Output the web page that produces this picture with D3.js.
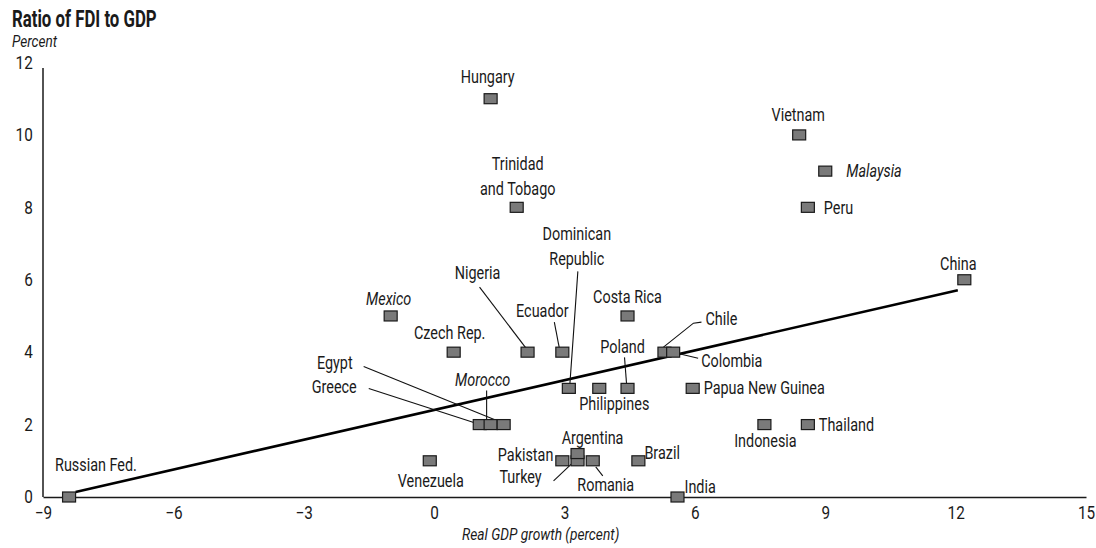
<!DOCTYPE html>
<html>
<head>
<meta charset="utf-8">
<script src="https://cdn.jsdelivr.net/npm/d3@7"></script>
<style>
  html, body { margin: 0; padding: 0; background: #fff; }
  svg { display: block; }
  text { font-family: Roboto, "Liberation Sans", sans-serif; fill: #1a1a1a; }
</style>
</head>
<body>
<svg id="chart" width="1096" height="548"></svg>
<script>
// ---------- data ----------
const countries = ["Russian Fed.", "Venezuela", "Hungary", "Trinidad\nand Tobago", "Vietnam", "Malaysia", "Peru", "China",
  "Mexico", "Czech Rep.", "Nigeria", "Ecuador", "Dominican\nRepublic", "Costa Rica", "Chile", "Colombia", "Poland",
  "Philippines", "Papua New Guinea", "Indonesia", "Thailand", "Greece", "Morocco", "Egypt", "Pakistan", "Turkey",
  "Argentina", "Romania", "Brazil", "India"];
const gdpGrowth = [-8.4, -0.1, 1.3, 1.9, 8.4, 9.0, 8.6, 12.2,
  -1.0, 0.45, 2.15, 2.95, 3.1, 4.45, 5.3, 5.5, 4.45,
  3.8, 5.95, 7.6, 8.6, 1.05, 1.3, 1.6, 2.95, 3.3,
  3.3, 3.65, 4.7, 5.6];
const fdiRatio = [0, 1, 11, 8, 10, 9, 8, 6,
  5, 4, 4, 4, 3, 5, 4, 4, 3,
  3, 3, 2, 2, 2, 2, 2, 1, 1,
  1.2, 1, 1, 0];
const fitX = [-8.25, 12.05];
const fitY = [0.14, 5.71];
const xTicks = [-9, -6, -3, 0, 3, 6, 9, 12, 15];
const yTicks = [0, 2, 4, 6, 8, 10, 12];
const titleText = "Ratio of FDI to GDP";
const yUnitText = "Percent";
const xTitleText = "Real GDP growth (percent)";

// ---------- label layout (pixel offsets from each marker) ----------
const labelLayout = {
  "Russian Fed.": {a: "start", dx: -14, dy: -26},
  "Venezuela": {a: "middle", dx: 1, dy: 26},
  "Hungary": {a: "middle", dx: -3, dy: -16},
  "Trinidad\nand Tobago": {a: "middle", dx: 1, dy: -37},
  "Vietnam": {a: "middle", dx: -1, dy: -14},
  "Malaysia": {a: "start", dx: 21, dy: 6, it: true},
  "Peru": {a: "start", dx: 16, dy: 7},
  "China": {a: "middle", dx: -6, dy: -10},
  "Mexico": {a: "middle", dx: -2, dy: -11, it: true},
  "Czech Rep.": {a: "middle", dx: -4, dy: -13},
  "Nigeria": {a: "middle", dx: -50, dy: -73, leader: [[-48, -65], [3, 2]]},
  "Ecuador": {a: "middle", dx: -20, dy: -35, leader: [[-8, -30], [-3, -4]]},
  "Dominican\nRepublic": {a: "middle", dx: 8, dy: -148, leader: [[9, -117], [5, -60], [1, -4]]},
  "Costa Rica": {a: "middle", dx: 0, dy: -13},
  "Chile": {a: "start", dx: 41, dy: -27, leader: [[37, -30], [29, -29], [-1, -5]]},
  "Colombia": {a: "start", dx: 28, dy: 15, leader: [[4, 1], [25, 6]]},
  "Poland": {a: "middle", dx: -5, dy: -35, leader: [[-3, -31], [-1, -5]]},
  "Philippines": {a: "middle", dx: 15, dy: 22},
  "Papua New Guinea": {a: "start", dx: 11, dy: 6},
  "Indonesia": {a: "middle", dx: 1, dy: 22},
  "Thailand": {a: "start", dx: 11, dy: 6},
  "Greece": {a: "end", dx: -123, dy: -32, leader: [[-111, -36], [-6, -2]]},
  "Morocco": {a: "middle", dx: -8, dy: -39, it: true, leader: [[-4, -34], [-4, -3]]},
  "Egypt": {a: "end", dx: -151, dy: -56, leader: [[-140, -58], [-2, -2]]},
  "Pakistan": {a: "end", dx: -9, dy: 0},
  "Turkey": {a: "middle", dx: -57, dy: 22, leader: [[-24, 20], [-6, 3]]},
  "Argentina": {a: "middle", dx: 15, dy: -10},
  "Romania": {a: "middle", dx: 13, dy: 30, leader: [[3, 6], [10, 15]]},
  "Brazil": {a: "start", dx: 6, dy: -2},
  "India": {a: "start", dx: 7, dy: -4}
};

// ---------- scales ----------
const svg = d3.select("#chart");
const x = d3.scaleLinear().domain([-9, 15]).range([43, 1086]);
const y = d3.scaleLinear().domain([0, 12]).range([497, 62.5]);

// condensed text helper (the original uses a condensed face)
function ctext(parent, tx, ty, lines, o) {
  const t = parent.append("text")
    .attr("transform", `translate(${tx},${ty}) scale(${o.sx},1)`)
    .attr("text-anchor", o.anchor || "start")
    .attr("font-size", o.size)
    .attr("font-weight", o.bold ? "bold" : null)
    .attr("font-style", o.italic ? "italic" : null);
  lines.forEach((ln, k) => t.append("tspan").attr("x", 0).attr("y", k * 25).text(ln));
  return t;
}

// title
ctext(svg, 12, 27, [titleText], {size: 24, bold: true, sx: 0.7});
ctext(svg, 12, 47, [yUnitText], {size: 16, italic: true, sx: 0.85});

// axes
const yAxis = d3.axisLeft(y).tickValues(yTicks).tickSize(0).tickPadding(12).tickFormat(d3.format("d"));
const gy = svg.append("g").attr("transform", `translate(${x(-9)},0)`).call(yAxis);
gy.select(".domain").attr("d", `M0,${y(11.85)}V${y(0)}`).attr("stroke", "#1a1a1a").attr("stroke-width", 1.5);
gy.selectAll(".tick text").attr("font-size", 18).attr("fill", "#1a1a1a")
  .style("font-family", "Roboto, sans-serif").attr("transform", "scale(0.85,1)");

const xAxis = d3.axisBottom(x).tickValues(xTicks).tickSize(0).tickPadding(9)
  .tickFormat(d => d < 0 ? "\u2212" + Math.abs(d) : String(d));
const gx = svg.append("g").attr("transform", `translate(0,${y(0)})`).call(xAxis);
gx.select(".domain").attr("stroke", "#1a1a1a").attr("stroke-width", 1.5);
gx.selectAll(".tick text").attr("font-size", 18).attr("fill", "#1a1a1a")
  .style("font-family", "Roboto, sans-serif").attr("transform", "scale(0.85,1)");

ctext(svg, 462, 540, [xTitleText], {size: 16, italic: true, sx: 0.86});

// regression line
svg.append("line")
  .attr("x1", x(fitX[0])).attr("y1", y(fitY[0]))
  .attr("x2", x(fitX[1])).attr("y2", y(fitY[1]))
  .attr("stroke", "#000").attr("stroke-width", 2.6);

const pts = countries.map((c, i) => ({name: c, gx: gdpGrowth[i], fy: fdiRatio[i]}));

// leaders
const line = d3.line();
pts.forEach(p => {
  const L = labelLayout[p.name];
  if (L && L.leader) {
    const px = x(p.gx), py = y(p.fy);
    svg.append("path").attr("d", line(L.leader.map(o => [px + o[0], py + o[1]])))
      .attr("fill", "none").attr("stroke", "#111").attr("stroke-width", 1.1);
  }
});

// markers
svg.append("g").selectAll("rect").data(pts).join("rect")
  .attr("x", d => x(d.gx) - 6.5).attr("y", d => y(d.fy) - 5)
  .attr("width", 13).attr("height", 10)
  .attr("fill", "#7a7a7a").attr("stroke", "#1a1a1a").attr("stroke-width", 1.2);

// labels
pts.forEach(p => {
  const L = labelLayout[p.name];
  const px = x(p.gx), py = y(p.fy);
  ctext(svg, px + L.dx, py + L.dy, p.name.split("\n"), {size: 18, sx: 0.8, anchor: L.a, italic: !!L.it});
});
</script>
</body>
</html>
